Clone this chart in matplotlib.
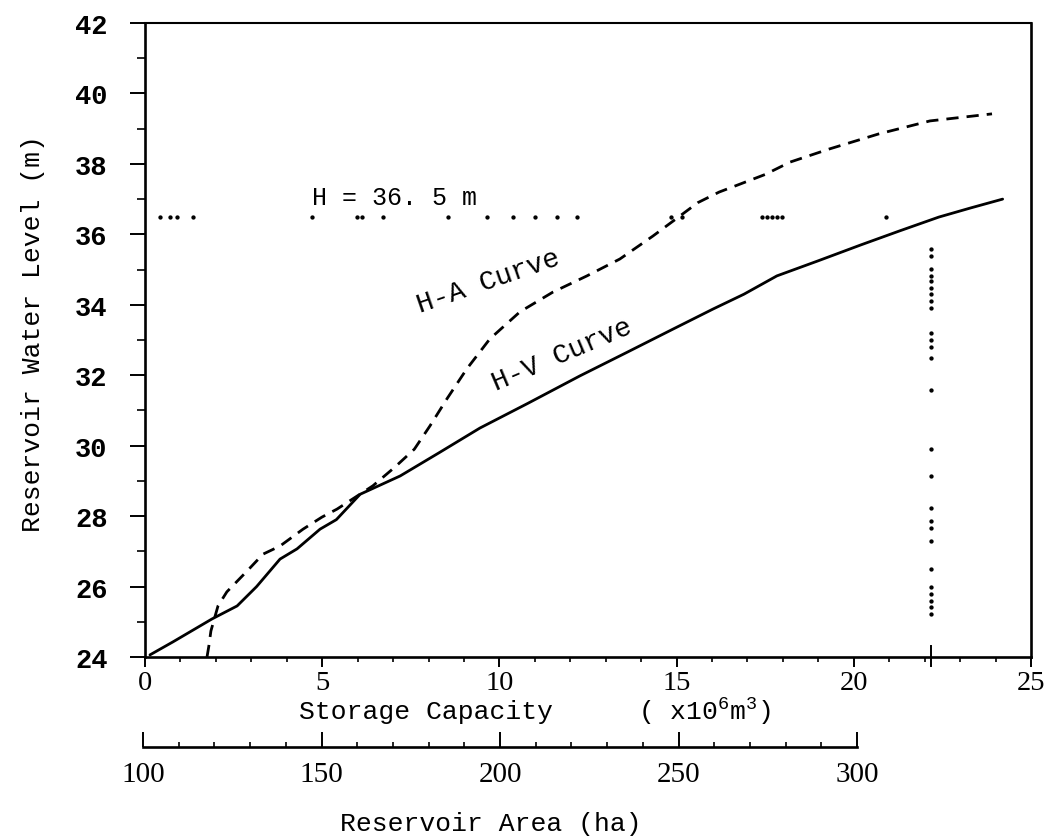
import matplotlib
matplotlib.use("Agg")
import matplotlib.pyplot as plt
from matplotlib.ticker import MultipleLocator

plt.rcParams['font.family'] = ['Liberation Mono', 'DejaVu Sans Mono']
plt.rcParams['mathtext.fontset'] = 'custom'
plt.rcParams['mathtext.rm'] = 'Liberation Mono'
plt.rcParams['mathtext.it'] = 'Liberation Mono'

# ---------------- data ----------------
hv_storage = [0.14, 0.79, 1.89, 2.6, 3.15, 3.81, 4.29, 4.94, 5.4, 6.07, 7.2, 8.3,
              9.45, 10.8, 12.27, 13.6, 14.9, 16.03, 16.9, 17.83, 19.0, 20.2, 21.3,
              22.4, 23.3, 24.2]
hv_level = [24.06, 24.43, 25.08, 25.45, 26.0, 26.78, 27.07, 27.63, 27.9, 28.62, 29.14,
            29.8, 30.5, 31.2, 31.98, 32.65, 33.31, 33.88, 34.3, 34.82, 35.25, 35.7,
            36.1, 36.49, 36.75, 37.0]

ha_storage = [1.75, 1.8, 1.86, 2.06, 2.31, 2.88, 3.33, 3.81, 4.46, 4.99, 5.42, 6.43,
              7.05, 7.6, 8.04, 8.52, 9.08, 9.73, 10.58, 11.51, 12.47, 13.4, 14.33,
              15.0, 15.6, 16.2, 16.8, 17.5, 18.2, 19.3, 20.7, 22.15, 23.9]
ha_level = [24.0, 24.3, 24.74, 25.45, 25.85, 26.44, 26.92, 27.15, 27.63, 27.97, 28.2,
            28.86, 29.39, 29.9, 30.56, 31.33, 32.18, 33.03, 33.8, 34.36, 34.82, 35.3,
            35.95, 36.45, 36.9, 37.2, 37.43, 37.7, 38.05, 38.42, 38.85, 39.22, 39.42]

design_level = 36.5          # H = 36.5 m
design_storage = 22.18       # storage where H-V reaches 36.5 m
h_dots_x = [0.42, 0.71, 0.9, 1.35, 4.71, 5.98, 6.12, 6.72, 8.55, 9.65, 10.38, 11.0,
            11.63, 12.19, 14.84, 15.15, 17.41, 17.55, 17.69, 17.83, 17.97, 20.9]
v_dots_y = [35.58, 35.39, 35.01, 34.82, 34.68, 34.49, 34.30, 34.10, 33.91, 33.2,
            33.01, 32.81, 32.48, 31.57, 29.9, 29.14, 28.23, 27.85, 27.66, 27.28,
            26.51, 25.98, 25.79, 25.6, 25.41, 25.22]

storage_ticks = [0, 5, 10, 15, 20, 25]
level_ticks = [24, 26, 28, 30, 32, 34, 36, 38, 40, 42]
area_ticks = [100, 150, 200, 250, 300]

digit_font = ['Liberation Serif', 'DejaVu Serif']

# ---------------- figure ----------------
fig = plt.figure(figsize=(10.61, 8.37), dpi=100)
ax = fig.add_axes([0.13666, 0.21386, 0.83506, 0.75747])

ax.plot(hv_storage, hv_level, color='black', lw=2.0, solid_capstyle='round')
ax.plot(ha_storage, ha_level, color='black', lw=2.0, linestyle=(0, (4.4, 2.9)))
ax.plot(h_dots_x, [design_level] * len(h_dots_x), linestyle='none', marker='o',
        markersize=2.1, color='black')
ax.plot([design_storage] * len(v_dots_y), v_dots_y, linestyle='none', marker='o',
        markersize=2.1, color='black')

ax.set_xlim(0, 25)
ax.set_ylim(24, 42)
ax.set_xticks(storage_ticks)
ax.set_xticklabels([str(t) for t in storage_ticks], family=digit_font)
ax.xaxis.set_minor_locator(MultipleLocator(1))
ax.set_yticks(level_ticks)
ax.set_yticklabels([str(t) for t in level_ticks], fontweight='bold')
ax.yaxis.set_minor_locator(MultipleLocator(1))

ax.tick_params(axis='x', which='major', direction='out', length=7.5, width=1.4,
               pad=2, labelsize=20.5)
ax.tick_params(axis='x', which='minor', direction='out', length=3.5, width=1.2)
ax.tick_params(axis='y', which='major', direction='out', length=11, width=1.4,
               pad=16, labelsize=19.5)
ax.tick_params(axis='y', which='minor', direction='out', length=5.5, width=1.2)

for side in ['left', 'bottom', 'right']:
    ax.spines[side].set_linewidth(1.9)
ax.spines['top'].set_linewidth(1.5)

# mark on the storage axis at the design storage
ax.plot([design_storage, design_storage], [23.75, 24.3], color='black', lw=1.4,
        clip_on=False)

ax.text(4.71, 37.06, "H = 36. 5 m", fontsize=18, ha='left', va='center')
ax.text(9.68, 34.68, "H-A Curve", fontsize=20, rotation=19, ha='center',
        va='center', rotation_mode='anchor')
ax.text(11.77, 32.6, "H-V Curve", fontsize=20, rotation=23, ha='center',
        va='center', rotation_mode='anchor')

fig.text(33 / 1061, 1 - 334 / 837, "Reservoir Water Level (m)", rotation=90,
         fontsize=19, ha='center', va='center')
fig.text(426 / 1061, 1 - 712 / 837, "Storage Capacity", fontsize=19,
         ha='center', va='center')
fig.text(638 / 1061, 1 - 712 / 837, "( x10$^{\\mathrm{6}}$m$^{\\mathrm{3}}$)",
         fontsize=19, ha='left', va='center')

# ---------------- reservoir area scale ----------------
ax2 = fig.add_axes([0.13478, 1 - 748 / 837, 0.67295, 0.0001])
ax2.patch.set_visible(False)
for side in ['left', 'top', 'right']:
    ax2.spines[side].set_visible(False)
ax2.spines['bottom'].set_linewidth(1.9)
ax2.set_yticks([])
ax2.set_xlim(100, 300)
ax2.set_xticks(area_ticks)
ax2.set_xticklabels([str(t) for t in area_ticks], family=digit_font)
ax2.xaxis.set_minor_locator(MultipleLocator(10))
ax2.tick_params(axis='x', which='major', direction='in', length=11, width=1.4,
                pad=10, labelsize=21)
ax2.tick_params(axis='x', which='minor', direction='in', length=3.5, width=1.2)

fig.text(491 / 1061, 1 - 824 / 837, "Reservoir Area (ha)", fontsize=19,
         ha='center', va='center')

fig.savefig("out.png", dpi=100)
